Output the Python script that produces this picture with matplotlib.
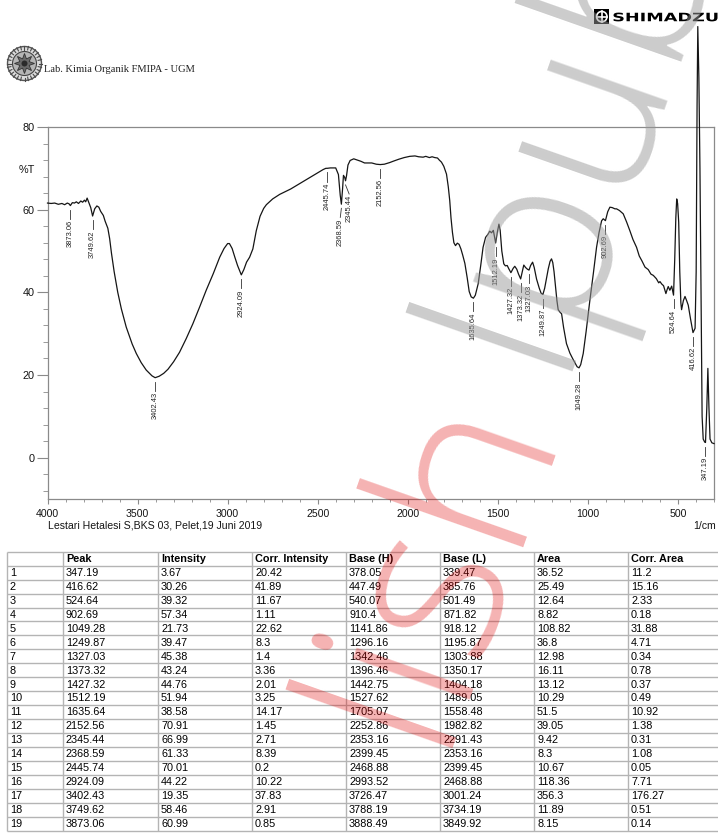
import matplotlib
matplotlib.use('Agg')
import matplotlib.pyplot as plt
from matplotlib.patches import Circle, Rectangle, PathPatch, Polygon
from matplotlib.textpath import TextPath
from matplotlib.font_manager import FontProperties
from matplotlib.transforms import Affine2D
from matplotlib.ticker import MultipleLocator
import numpy as np

W, H = 718, 833
SANS = 'Liberation Sans'
SERIF = 'Liberation Serif'
INK = '#151515'
FRAME = '#8a8a8a'

# ── spectrum trace: wavenumber (1/cm) vs %T ──
wavenumber = [
    4000, 3980, 3960, 3940, 3920, 3905, 3890, 3880, 3873.06, 3862, 3850, 3840,
    3828, 3815, 3805, 3795, 3788, 3780, 3772, 3760, 3749.62, 3738, 3726, 3715,
    3705, 3690, 3680, 3665, 3655, 3645, 3630, 3610, 3590, 3563, 3530, 3507,
    3480, 3452, 3420, 3402.43, 3380, 3355, 3331, 3300, 3267, 3230, 3193, 3155,
    3119, 3080, 3044, 3020, 3000, 2990, 2975, 2960, 2945, 2924.09, 2910, 2895,
    2878, 2860, 2841, 2820, 2800, 2785, 2750, 2711, 2650, 2600, 2550, 2500,
    2470, 2455, 2445.74, 2430, 2400, 2385, 2375, 2368.59, 2362, 2357, 2350,
    2345.44, 2340, 2332, 2320, 2300, 2280, 2260, 2240, 2200, 2175, 2152.56,
    2130, 2100, 2082, 2050, 2020, 1989, 1960, 1940, 1915, 1900, 1880, 1865,
    1850, 1835, 1825, 1813, 1800, 1785, 1775, 1767, 1760, 1752, 1744, 1735,
    1725, 1715, 1705, 1695, 1683, 1670, 1659, 1648, 1635.64, 1625, 1609, 1595,
    1582, 1568, 1554, 1545, 1535, 1525, 1512.19, 1503, 1494, 1487, 1478, 1467,
    1458, 1448, 1438, 1427.32, 1415, 1406, 1395, 1385, 1373.32, 1362, 1356,
    1346, 1336, 1327.03, 1318, 1307, 1298, 1285, 1270, 1260, 1249.87, 1240,
    1230, 1220, 1210, 1202, 1195, 1188, 1180, 1172, 1165, 1155, 1146, 1135,
    1119, 1100, 1085, 1070, 1060, 1049.28, 1040, 1026, 1010, 989, 970, 952,
    938, 924, 915, 902.69, 890, 878, 865, 850, 841, 825, 804, 785, 767, 750,
    730, 715, 700, 683, 665, 650, 637, 620, 607, 600, 590, 580, 567, 560, 554,
    545, 535, 524.64, 518, 512, 507, 502, 496, 490, 484, 480, 470, 461, 452,
    443, 430, 416.62, 405, 399, 394, 390, 384, 378, 372, 366, 360, 352, 347.19,
    340, 334, 328, 322, 312, 300,
]
transmittance = [
    61.6, 61.5, 61.6, 61.3, 61.5, 61.2, 61.6, 61.4, 60.99, 61.7, 61.6, 61.9,
    61.5, 62.1, 61.8, 62.3, 61.9, 62.8, 61.9, 60.5, 58.46, 60.2, 60.9, 60.6,
    59.6, 58.6, 57.2, 55.5, 53.0, 49.5, 45.0, 40.0, 36.0, 31.6, 27.5, 25.2,
    23.0, 21.2, 19.8, 19.35, 19.7, 20.4, 21.4, 23.2, 25.5, 28.8, 32.4, 36.5,
    40.5, 44.5, 48.5, 50.6, 51.8, 51.8, 50.6, 48.5, 46.5, 44.22, 45.5, 47.3,
    48.5, 50.5, 54.9, 58.4, 60.3, 61.2, 62.6, 63.7, 65.0, 66.3, 67.6, 68.9,
    69.7, 70.0, 70.01, 70.1, 70.1, 68.5, 63.5, 61.33, 65.0, 68.3, 67.8,
    66.99, 68.2, 70.8, 71.9, 72.3, 72.0, 71.7, 71.3, 71.3, 71.0, 70.91,
    71.0, 71.4, 71.7, 72.2, 72.6, 72.9, 73.0, 72.8, 72.7, 72.9, 72.6, 72.8,
    72.6, 72.5, 72.0, 71.5, 70.5, 68.6, 65.5, 62.2, 58.0, 54.5, 52.0, 51.3,
    51.9, 51.6, 50.5, 49.0, 47.0, 43.5, 40.2, 38.9, 38.58, 39.3, 42.1, 46.5,
    50.9, 53.3, 54.1, 54.8, 54.4, 55.0, 51.94, 54.5, 56.5, 55.0, 50.0, 46.9,
    46.4, 46.5, 45.6, 44.76, 45.8, 46.3, 45.6, 44.4, 43.24, 45.5, 46.6,
    46.0, 45.6, 45.38, 46.5, 47.3, 46.0, 43.2, 41.0, 39.8, 39.47, 41.0,
    43.3, 45.7, 47.5, 48.1, 47.2, 45.0, 41.5, 38.0, 35.8, 35.2, 34.8, 31.5,
    27.6, 25.3, 24.0, 22.8, 22.0, 21.73, 22.5, 25.2, 30.5, 38.1, 44.5, 50.9,
    54.5, 57.3, 57.8, 57.34, 59.5, 60.6, 60.5, 60.2, 60.2, 59.8, 59.0, 57.0,
    54.9, 52.8, 50.9, 48.8, 47.6, 46.1, 45.5, 44.4, 44.1, 43.3, 42.3, 42.6,
    42.0, 41.6, 39.7, 40.7, 41.4, 40.5, 41.5, 39.32, 48.0, 58.0, 62.6, 61.5,
    57.0, 45.0, 37.5, 35.8, 38.0, 39.0, 38.0, 36.9, 33.5, 30.26, 31.3, 45.0,
    85.0, 104.3, 92.0, 70.0, 40.0, 10.0, 4.5, 3.8, 3.67, 12.0, 21.6, 12.0,
    4.5, 3.6, 3.4,
]

# ── peak table ──
table_cols = ['Peak', 'Intensity', 'Corr. Intensity', 'Base (H)', 'Base (L)',
              'Area', 'Corr. Area']
peak = [347.19, 416.62, 524.64, 902.69, 1049.28, 1249.87, 1327.03, 1373.32,
        1427.32, 1512.19, 1635.64, 2152.56, 2345.44, 2368.59, 2445.74,
        2924.09, 3402.43, 3749.62, 3873.06]
intensity = [3.67, 30.26, 39.32, 57.34, 21.73, 39.47, 45.38, 43.24, 44.76,
             51.94, 38.58, 70.91, 66.99, 61.33, 70.01, 44.22, 19.35, 58.46,
             60.99]
corr_intensity = [20.42, 41.89, 11.67, 1.11, 22.62, 8.3, 1.4, 3.36, 2.01,
                  3.25, 14.17, 1.45, 2.71, 8.39, 0.2, 10.22, 37.83, 2.91, 0.85]
base_h = [378.05, 447.49, 540.07, 910.4, 1141.86, 1296.16, 1342.46, 1396.46,
          1442.75, 1527.62, 1705.07, 2252.86, 2353.16, 2399.45, 2468.88,
          2993.52, 3726.47, 3788.19, 3888.49]
base_l = [339.47, 385.76, 501.49, 871.82, 918.12, 1195.87, 1303.88, 1350.17,
          1404.18, 1489.05, 1558.48, 1982.82, 2291.43, 2353.16, 2399.45,
          2468.88, 3001.24, 3734.19, 3849.92]
area = [36.52, 25.49, 12.64, 8.82, 108.82, 36.8, 12.98, 16.11, 13.12, 10.29,
        51.5, 39.05, 9.42, 8.3, 10.67, 118.36, 356.3, 11.89, 8.15]
corr_area = [11.2, 15.16, 2.33, 0.18, 31.88, 4.71, 0.34, 0.78, 0.37, 0.49,
             10.92, 1.38, 0.31, 1.08, 0.05, 7.71, 176.27, 0.51, 0.14]


def fmt(v):
    return f'{v:.2f}'.rstrip('0').rstrip('.')


fig = plt.figure(figsize=(W / 100, H / 100), dpi=100)

# page layer in pixel units (y down)
page = fig.add_axes([0, 0, 1, 1], zorder=0)
page.set_xlim(0, W)
page.set_ylim(H, 0)
page.axis('off')

# ── header: UGM seal + lab name ──
page.add_patch(Circle((24.5, 63.5), 17, fc='#dcdcdc', ec='#555555', lw=1.0))
for a in np.linspace(0, 2 * np.pi, 28, endpoint=False):
    page.plot([24.5 + 14 * np.cos(a), 24.5 + 17.5 * np.cos(a)],
              [63.5 + 14 * np.sin(a), 63.5 + 17.5 * np.sin(a)],
              color='#4a4a4a', lw=0.8)
page.add_patch(Circle((24.5, 63.5), 12, fc='#b5b5b5', ec='#444444', lw=0.8))
star = []
for k in range(16):
    r = 10 if k % 2 == 0 else 5
    a = k * np.pi / 8
    star.append((24.5 + r * np.cos(a), 63.5 + r * np.sin(a)))
page.add_patch(Polygon(star, closed=True, fc='#6a6a6a', ec='#333333', lw=0.6))
page.add_patch(Circle((24.5, 63.5), 3, fc='#2a2a2a', ec='none'))
page.text(44, 69.5, 'Lab. Kimia Organik FMIPA - UGM', fontsize=7.6,
          family=SERIF, color='#222222', va='center', ha='left')

# ── SHIMADZU mark ──
page.add_patch(Rectangle((594.3, 9.3), 15, 14.7, fc='black', ec='none'))
page.add_patch(Circle((601.8, 16.65), 5.2, fc='none', ec='white', lw=1.2))
page.plot([596.6, 607.0], [16.65, 16.65], color='white', lw=1.2)
page.plot([601.8, 601.8], [11.45, 21.85], color='white', lw=1.2)
tp = TextPath((0, 0), 'SHIMADZU', size=1,
              prop=FontProperties(family='DejaVu Sans', weight='bold'))
ext = tp.get_extents()
sx = 104.0 / ext.width
sy = 8.8 / ext.height
tr = Affine2D().translate(-ext.x0, -ext.y0).scale(sx, -sy).translate(613.5, 21.4)
page.add_patch(PathPatch(tr.transform_path(tp), fc='black', ec='none'))

# ── spectrum axes ──
x0, x1, y0, y1 = 47.5, 714, 127, 499
ax = fig.add_axes([x0 / W, 1 - y1 / H, (x1 - x0) / W, (y1 - y0) / H], zorder=2)
ax.patch.set_alpha(0)
ax.plot(wavenumber, transmittance, color=INK, lw=0.9, clip_on=False, zorder=3)
ax.set_xlim(4000, 300)
ax.set_ylim(-10, 80)
for s in ax.spines.values():
    s.set_color(FRAME)
    s.set_linewidth(0.9)

ax.xaxis.set_minor_locator(MultipleLocator(100))
ax.yaxis.set_major_locator(MultipleLocator(20))
ax.yaxis.set_minor_locator(MultipleLocator(4))
ax.set_xticks([4000, 3500, 3000, 2500, 2000, 1500, 1000, 500])
ax.tick_params(axis='x', which='major', direction='out', length=3.5,
               color=FRAME, pad=4, labelsize=7.6, labelcolor=INK)
ax.tick_params(axis='x', which='minor', direction='out', length=2.2,
               color=FRAME)
ax.tick_params(axis='y', which='major', direction='out', length=8,
               color=FRAME, pad=1.5, labelsize=7.8, labelcolor=INK)
ax.tick_params(axis='y', which='minor', direction='out', length=3.6,
               color=FRAME)
for lab in ax.get_xticklabels() + ax.get_yticklabels():
    lab.set_family(SANS)

page.text(35, 169.5, '%T', fontsize=7.8, family=SANS, color=INK,
          ha='right', va='center')
page.text(48, 526, 'Lestari Hetalesi S,BKS 03, Pelet,19 Juni 2019',
          fontsize=7.6, family=SANS, color=INK, ha='left', va='center')
page.text(705, 526, '1/cm', fontsize=7.6, family=SANS, color=INK,
          ha='center', va='center')

# peak markers: short leader + rotated wavenumber below each minimum
label_shift = {2368.59: 6, 2345.44: -20}
for p, t in zip(peak, intensity):
    dx = label_shift.get(p, 0)
    ax.plot([p, p + dx], [t - 1.0, t - 3.2], color='#333333', lw=0.6,
            clip_on=False, zorder=3)
    ax.text(p + dx, t - 3.5, f'{p:.2f}', rotation=90, fontsize=5.4,
            family=SANS, color='#222222', ha='center', va='top', zorder=4)

# ── peak table ──
col_x = [7, 63, 158, 252, 346, 440, 534, 628, 722]
row_top = 551.7
row_h = 13.95
n_rows = len(peak) + 1
grid = '#b4b4b4'
for i in range(n_rows + 1):
    yy = row_top + i * row_h
    page.plot([col_x[0], col_x[-1]], [yy, yy], color=grid, lw=1.0,
              solid_capstyle='butt')
for xx in col_x:
    page.plot([xx, xx], [row_top, row_top + n_rows * row_h], color=grid,
              lw=1.0, solid_capstyle='butt')

for j, name in enumerate(table_cols):
    page.text(col_x[j + 1] + 3, row_top + row_h / 2 + 0.3, name,
              fontsize=7.8, family=SANS, weight='bold', color='black',
              ha='left', va='center')

columns = [peak, intensity, corr_intensity, base_h, base_l, area, corr_area]
for i in range(len(peak)):
    yc = row_top + (i + 1.5) * row_h + 0.3
    page.text(col_x[0] + 3, yc, str(i + 1), fontsize=7.8, family=SANS,
              color='black', ha='left', va='center')
    for j, col in enumerate(columns):
        page.text(col_x[j + 1] + 3, yc, fmt(col[i]), fontsize=7.8,
                  family=SANS, color='black', ha='left', va='center')

# ── diagonal stamp across the page ──
stamp = dict(fontsize=168, family='Open Sans', weight='light', rotation=70.6,
             rotation_mode='anchor', va='baseline', transform=page.transData,
             zorder=10)
fig.text(552, 371, 'lpub', color='#9a9a9a', alpha=0.5, ha='left', **stamp)
fig.text(549, 417, 'lish', color='#e00000', alpha=0.3, ha='right', **stamp)

fig.savefig('out.png', dpi=100, facecolor='white')
